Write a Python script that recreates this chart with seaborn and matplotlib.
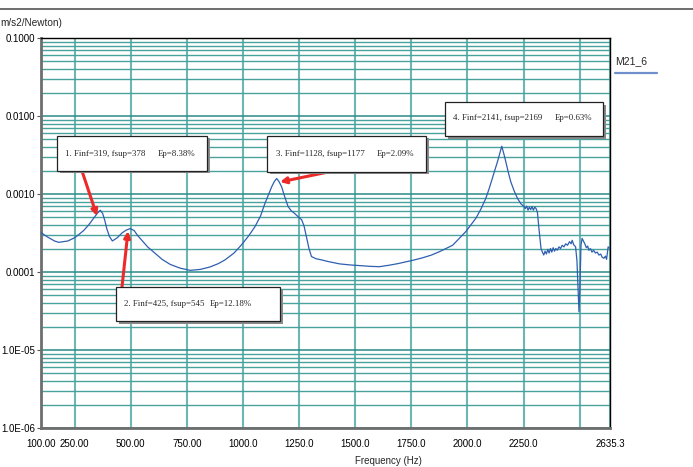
import numpy as np
import pandas as pd
import matplotlib
matplotlib.use("Agg")
import matplotlib.pyplot as plt
import seaborn as sns
from matplotlib.patches import Rectangle
from matplotlib.lines import Line2D

# ---------------- data ----------------
freq_hz = [100, 130, 160, 179, 220, 250, 267, 290, 312, 335, 352, 364, 375, 385, 393, 405, 418,
           440, 460, 480, 497, 515, 530, 548, 575, 608, 640, 676, 720, 765, 810, 853, 890,
           920, 960, 994, 1025, 1053, 1078, 1098, 1115, 1128, 1140, 1150, 1160, 1172, 1186,
           1201, 1215, 1231, 1246, 1261, 1272, 1283, 1294, 1305, 1325, 1350, 1380, 1431, 1480,
           1530, 1570, 1608, 1650, 1690, 1727, 1760, 1800, 1840, 1875, 1934, 1993, 2038, 2060,
           2082, 2098, 2111, 2124, 2134, 2145, 2153, 2162, 2171, 2182, 2193, 2208, 2223, 2238,
           2252, 2258, 2264, 2270, 2276, 2282, 2288, 2294, 2300, 2306, 2312, 2320, 2328, 2334,
           2340, 2346, 2352, 2358, 2364, 2370, 2376, 2382, 2388, 2394, 2400, 2408, 2415, 2422,
           2430, 2438, 2446, 2455, 2462, 2467, 2473, 2482, 2488, 2494, 2497, 2501, 2506, 2511,
           2517, 2523, 2530, 2536, 2541, 2548, 2555, 2562, 2570, 2578, 2586, 2594, 2600, 2608,
           2615, 2620, 2627, 2635]
frf_m21_6 = [3.2e-4, 2.8e-4, 2.5e-4, 2.4e-4, 2.5e-4, 2.75e-4, 3.0e-4, 3.4e-4, 4.0e-4, 4.9e-4,
             5.7e-4, 6.2e-4, 5.6e-4, 4.5e-4, 3.6e-4, 2.85e-4, 2.5e-4,
             2.75e-4, 3.15e-4, 3.45e-4, 3.6e-4, 3.4e-4, 2.95e-4, 2.57e-4, 2.1e-4, 1.74e-4,
             1.45e-4, 1.25e-4, 1.12e-4, 1.05e-4, 1.08e-4, 1.16e-4, 1.28e-4,
             1.43e-4, 1.75e-4, 2.24e-4, 2.9e-4, 3.8e-4, 5.2e-4, 7.6e-4, 1.0e-3, 1.24e-3, 1.45e-3,
             1.58e-3, 1.45e-3, 1.24e-3, 9.2e-4,
             6.9e-4, 6.1e-4, 5.6e-4, 5.1e-4, 4.7e-4, 3.9e-4, 2.8e-4, 2.0e-4, 1.58e-4, 1.48e-4,
             1.43e-4, 1.36e-4, 1.27e-4, 1.23e-4,
             1.2e-4, 1.18e-4, 1.17e-4, 1.22e-4, 1.28e-4, 1.35e-4, 1.42e-4, 1.52e-4, 1.65e-4,
             1.82e-4, 2.2e-4, 3.3e-4, 4.9e-4, 6.4e-4,
             8.8e-4, 1.2e-3, 1.58e-3, 2.1e-3, 2.6e-3, 3.4e-3, 4.1e-3, 3.3e-3, 2.6e-3, 1.9e-3,
             1.44e-3, 1.1e-3, 8.8e-4, 7.5e-4,
             6.9e-4, 6.5e-4, 7.0e-4, 6.2e-4, 6.8e-4, 6.3e-4, 6.9e-4, 6.2e-4, 6.8e-4, 6.5e-4,
             5.8e-4, 3.3e-4, 2.0e-4, 1.8e-4,
             1.65e-4, 1.85e-4, 1.7e-4, 1.95e-4, 1.75e-4, 2.0e-4, 1.8e-4, 2.05e-4, 1.85e-4,
             2.0e-4, 1.9e-4, 2.1e-4, 2.0e-4, 2.2e-4,
             2.1e-4, 2.3e-4, 2.2e-4, 2.45e-4, 2.3e-4, 2.55e-4, 2.25e-4, 2.1e-4, 1.4e-4, 5.0e-5,
             3.1e-5, 6.0e-5, 2.2e-4, 2.7e-4,
             2.5e-4, 2.3e-4, 2.05e-4, 2.15e-4, 1.9e-4, 2.0e-4, 1.8e-4, 1.9e-4, 1.75e-4, 1.8e-4,
             1.65e-4, 1.7e-4, 1.55e-4, 1.5e-4,
             1.6e-4, 1.45e-4, 2.1e-4, 2.0e-4]
series_name = "M21_6"

x_ticks = [100, 250, 500, 750, 1000, 1250, 1500, 1750, 2000, 2250, 2500, 2635.3]
x_tick_labels = ["100.00", "250.00", "500.00", "750.00", "1000.0", "1250.0", "1500.0",
                 "1750.0", "2000.0", "2250.0", "", "2635.3"]
y_ticks = [1e-6, 1e-5, 1e-4, 1e-3, 1e-2, 1e-1]
y_tick_labels = ["1.0E-06", "1.0E-05", "0.0001", "0.0010", "0.0100", "0.1000"]

annotations = [
    ("1. Finf=319, fsup=378", "Ep=8.38%"),
    ("2. Finf=425, fsup=545", "Ep=12.18%"),
    ("3. Finf=1128, fsup=1177", "Ep=2.09%"),
    ("4. Finf=2141, fsup=2169", "Ep=0.63%"),
]

# ---------------- figure ----------------
W, H = 693, 467
sns.set_theme(style="white")
plt.rcParams["font.family"] = ["Liberation Sans", "DejaVu Sans"]

fig = plt.figure(figsize=(W / 100, H / 100), dpi=100)
ax = fig.add_axes([41 / W, 1 - 428 / H, (610 - 41) / W, (428 - 38) / H])

def P(x, y):
    return (x / W, 1 - y / H)

df = pd.DataFrame({"Frequency": freq_hz, "Value": frf_m21_6})
sns.lineplot(data=df, x="Frequency", y="Value", ax=ax, color="#2f5fb0",
             linewidth=0.9, zorder=5, legend=False)

ax.set_yscale("log")
ax.set_xlim(100, 2635.3)
ax.set_ylim(1e-6, 0.1)
ax.set_xticks(x_ticks)
ax.set_xticklabels(x_tick_labels, fontsize=7)
ax.set_yticks(y_ticks)
ax.set_yticklabels(y_tick_labels, fontsize=7)
ax.yaxis.set_minor_locator(matplotlib.ticker.LogLocator(base=10, subs=np.arange(2, 10)))
ax.yaxis.set_minor_formatter(matplotlib.ticker.NullFormatter())

ax.grid(True, which="major", axis="x", color="#6db6b3", linewidth=1.5, zorder=1)
ax.grid(True, which="major", axis="y", color="#2a8c86", linewidth=1.1, zorder=1)
ax.grid(True, which="minor", axis="y", color="#48a29d", linewidth=1.0, zorder=1)
ax.set_axisbelow(True)

ax.tick_params(axis="y", which="major", length=3, width=0.8, color="#555555",
               left=True, pad=1, labelcolor="black")
ax.tick_params(axis="y", which="minor", length=0)
ax.tick_params(axis="x", which="both", length=0, pad=8, labelcolor="black")

for side in ["top", "right"]:
    ax.spines[side].set_color("black")
    ax.spines[side].set_linewidth(1.0)
for side in ["left", "bottom"]:
    ax.spines[side].set_color("#6e6e6e")
    ax.spines[side].set_linewidth(2.0)

ax.set_xlabel("Frequency (Hz)", fontsize=7)
ax.xaxis.set_label_coords((388 - 41) / (610 - 41), -(461 - 428) / (428 - 38),
                          transform=ax.transAxes)
ax.xaxis.label.set_va("center")
ax.set_ylabel("")

# y unit text top-left
fig.text(*P(0, 23), "m/s2/Newton)", fontsize=7.2, ha="left", va="center")

# top rule
fig.add_artist(Line2D([0, 1], [1 - 9 / H, 1 - 9 / H], transform=fig.transFigure,
                      color="#555555", linewidth=1.2))

# legend
fig.text(*P(615, 61), series_name, fontsize=7.5, ha="left", va="center")
fig.add_artist(Line2D([615 / W, 657 / W], [1 - 72.5 / H] * 2, transform=fig.transFigure,
                      color="#6f8fcc", linewidth=1.6))

# annotation boxes: (x0, y0, x1, y1, text1_x, text2_x, text_y)
boxes = [
    (57, 136, 207, 171, 65, 157.7, 154),
    (116, 287, 280, 321, 124.3, 210, 304),
    (267, 136, 426, 172, 275.7, 376.7, 154),
    (445, 102, 603, 136, 453.3, 555, 118.5),
]
for (x0, y0, x1, y1, tx1, tx2, ty), (t1, t2) in zip(boxes, annotations):
    fig.add_artist(Rectangle(P(x0 + 2.5, y1 + 2.5), (x1 - x0) / W, (y1 - y0) / H,
                             transform=fig.transFigure,
                             facecolor="#8a8a8a", edgecolor="none", zorder=6))
    fig.add_artist(Rectangle(P(x0, y1), (x1 - x0) / W, (y1 - y0) / H,
                             transform=fig.transFigure,
                             facecolor="white", edgecolor="#222222", linewidth=0.9, zorder=7))
    fig.text(*P(tx1, ty), t1, fontsize=6.4, ha="left", va="center",
             family=["Liberation Serif", "DejaVu Serif"], zorder=8)
    fig.text(*P(tx2, ty), t2, fontsize=6.4, ha="left", va="center",
             family=["Liberation Serif", "DejaVu Serif"], zorder=8)

# arrows (start at box edge, point to peak)
arrows = [((82, 171), (97, 216)), ((122, 287), (128, 231)), ((333, 171), (280, 182))]
for (sx, sy), (ex, ey) in arrows:
    ax.annotate("", xy=P(ex, ey), xycoords="figure fraction",
                xytext=P(sx, sy), textcoords="figure fraction",
                arrowprops=dict(arrowstyle="-|>", color="#ec2a2a", lw=2.2,
                                mutation_scale=9, shrinkA=0, shrinkB=0),
                zorder=9, annotation_clip=False)

fig.savefig("out.png", dpi=100)
